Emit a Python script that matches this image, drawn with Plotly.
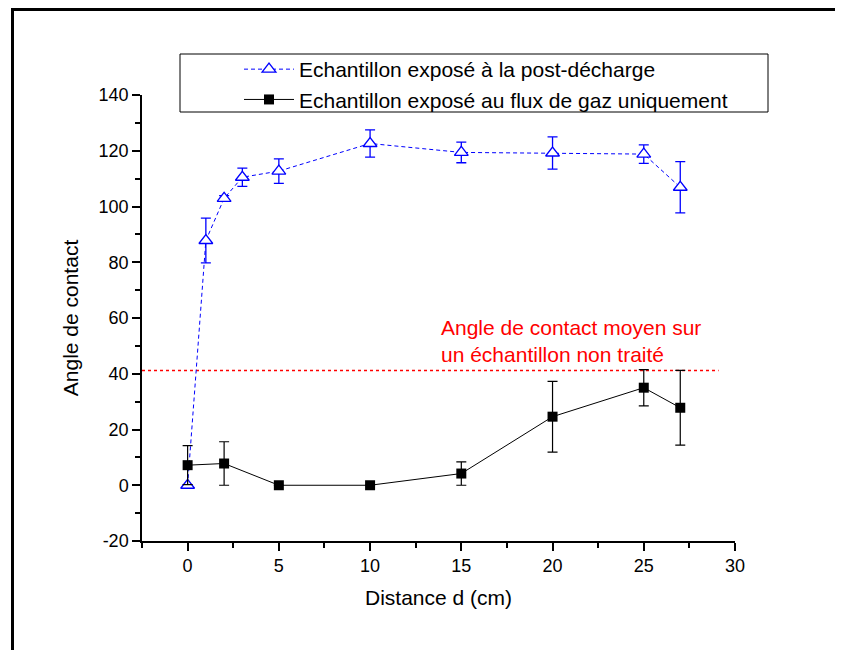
import plotly.graph_objects as go

# ---- data ----
x_post = [0, 1, 2, 3, 5, 10, 15, 20, 25, 27]
y_post = [0.0, 87.8, 102.9, 110.5, 112.7, 122.6, 119.4, 119.2, 118.8, 106.9]
err_post = [0.0, 8.0, 1.0, 3.3, 4.4, 4.9, 3.7, 5.8, 3.3, 9.2]

x_gaz = [0, 2, 5, 10, 15, 20, 25, 27]
y_gaz = [7.2, 7.8, 0.0, 0.0, 4.2, 24.6, 35.0, 27.8]
err_gaz = [7.0, 7.8, 0.0, 0.0, 4.2, 12.7, 6.5, 13.4]

ref_x = [-2.5, 29.1]
ref_angle = 41.2

name_post = "Echantillon exposé à la post-décharge"
name_gaz = "Echantillon exposé au flux de gaz uniquement"
ref_text = "Angle de contact moyen sur<br>un échantillon non traité"

x_ticks = [0, 5, 10, 15, 20, 25, 30]
x_ticklabels = ["0", "5", "10", "15", "20", "25", "30"]
y_ticks = [-20, 0, 20, 40, 60, 80, 100, 120, 140]
y_ticklabels = ["-20", "0", "20", "40", "60", "80", "100", "120", "140"]

FONT = "Liberation Sans, Arial, sans-serif"
BLUE = "#0000FF"

fig = go.Figure()

fig.add_trace(go.Scatter(
    x=ref_x, y=[ref_angle] * len(ref_x), mode="lines",
    line=dict(color="#FF0000", width=1.5, dash="dot"),
    showlegend=False, hoverinfo="skip"))

fig.add_trace(go.Scatter(
    x=x_post, y=y_post, name=name_post, mode="lines+markers",
    line=dict(color=BLUE, width=1, dash="4px,3px"),
    marker=dict(symbol="triangle-up", size=12, color="white",
                line=dict(color=BLUE, width=1.3)),
    error_y=dict(type="data", array=err_post, visible=True,
                 color=BLUE, thickness=1.3, width=5)))

fig.add_trace(go.Scatter(
    x=x_gaz, y=y_gaz, name=name_gaz, mode="lines+markers",
    line=dict(color="black", width=1),
    marker=dict(symbol="square", size=10, color="black"),
    error_y=dict(type="data", array=err_gaz, visible=True,
                 color="black", thickness=1.2, width=5)))

fig.add_annotation(x=13.75, y=51.8, xref="x", yref="y", text=ref_text,
                   showarrow=False, xanchor="left", yanchor="middle", align="left",
                   font=dict(family=FONT, size=21, color="#FF0000"))

# page has an 8px body margin: figure is sized to fit the window
W, H = 835, 642
L, R, T, B = 134, 108, 87, 109
pw, ph = W - L - R, H - T - B
OFF = 8  # page offset


def px(xpage):
    return (xpage - OFF - L) / pw


def py(ypage):
    return (H - B - (ypage - OFF)) / ph


# outer frame (top and left)
fig.add_shape(type="line", xref="paper", yref="paper",
              x0=px(11), x1=px(843), y0=py(9.5), y1=py(9.5),
              line=dict(color="black", width=3))
fig.add_shape(type="line", xref="paper", yref="paper",
              x0=px(12.5), x1=px(12.5), y0=py(8), y1=py(650),
              line=dict(color="black", width=3))
# legend box
fig.add_shape(type="rect", xref="paper", yref="paper",
              x0=px(180), x1=px(768), y0=py(54), y1=py(112),
              line=dict(color="black", width=1))

axis_common = dict(showline=True, linecolor="black", linewidth=1.5,
                   ticks="outside", ticklen=8, tickwidth=1.5, tickcolor="black",
                   showgrid=False, zeroline=False, mirror=False,
                   tickfont=dict(family=FONT, size=18, color="black"))

fig.update_xaxes(range=[-2.5, 30], tickvals=x_ticks, ticktext=x_ticklabels,
                 minor=dict(ticks="outside", ticklen=5, tickwidth=1.5, dtick=2.5, tick0=0,
                            tickcolor="black", showgrid=False),
                 title=dict(text="Distance d (cm)", font=dict(family=FONT, size=21, color="black"),
                            standoff=15),
                 **axis_common)
fig.update_yaxes(range=[-20, 140], tickvals=y_ticks, ticktext=y_ticklabels,
                 minor=dict(ticks="outside", ticklen=5, tickwidth=1.5, dtick=10, tick0=0,
                            tickcolor="black", showgrid=False),
                 title=dict(text="Angle de contact", font=dict(family=FONT, size=21, color="black"),
                            standoff=14),
                 **axis_common)

fig.update_layout(
    width=W, height=H,
    margin=dict(l=L, r=R, t=T, b=B, autoexpand=False),
    paper_bgcolor="white", plot_bgcolor="white",
    font=dict(family=FONT, color="black"),
    legend=dict(x=px(239), y=py(49), xanchor="left", yanchor="top",
                bgcolor="rgba(0,0,0,0)", borderwidth=0, itemwidth=50,
                font=dict(family=FONT, size=21, color="black"),
                tracegroupgap=0),
    showlegend=True,
)

fig.write_html("out.html")
